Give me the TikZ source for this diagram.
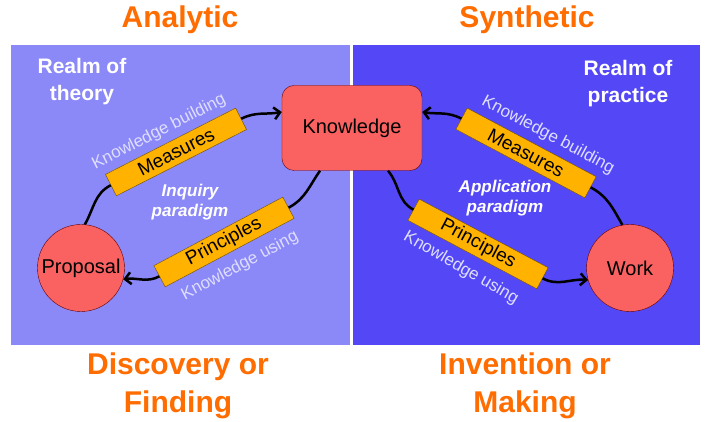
\documentclass[tikz,border=0pt]{standalone}
\usepackage{fontspec}
\setmainfont{Liberation Sans}
\usetikzlibrary{arrows.meta}

\definecolor{theory}{RGB}{139,136,248}
\definecolor{practice}{RGB}{84,72,246}
\definecolor{salmon}{RGB}{250,98,98}
\definecolor{amber}{RGB}{255,178,0}
\definecolor{flame}{RGB}{255,108,0}
\definecolor{lilac}{RGB}{222,222,255}
\newcommand{\fs}[2]{\fontsize{#1}{#2}\selectfont}

\begin{document}
\begin{tikzpicture}[x=1pt,y=1pt,
    heading/.style={text=flame, font=\fs{30}{38}\bfseries, align=center, inner sep=0pt},
    realm/.style={text=white, font=\fs{21}{27}\bfseries, align=center, inner sep=0pt},
    item/.style={draw=black!60!red, fill=salmon, font=\fs{20}{24}, inner sep=0pt},
    bar/.style={draw=black!55!amber, fill=amber, font=\fs{19}{23}, minimum width=146pt, minimum height=24pt, inner sep=0pt},
    flow/.style={text=lilac, font=\fs{17}{20}, inner sep=0pt},
    paradigm/.style={text=white, font=\fs{17}{20}\bfseries\itshape, align=center, inner sep=0pt},
    link/.style={line width=2.5pt, black},
    headed/.style={-{Straight Barb[length=6pt,width=12pt]}}]
    \useasboundingbox[fill=white] (0,0) rectangle (706,422);

    % Panels
    \fill[theory] (11,77) rectangle (350,377);
    \fill[practice] (353,77) rectangle (700,377);

    % Headings
    \node[heading] (analytic) at (180,402) {Analytic};
    \node[heading] (synthetic) at (527,402) {Synthetic};
    \node[heading] (discovery) at (178,36) {Discovery or\\Finding};
    \node[heading] (invention) at (525,36) {Invention or\\Making};

    \node[realm] (theory) at (82,340) {Realm of\\theory};
    \node[realm] (practice) at (628,338) {Realm of\\practice};

    % Main nodes
    \node[item, rounded corners=12pt, minimum width=140pt, minimum height=85pt] (knowledge) at (352,294) {Knowledge};
    \node[item, circle, minimum size=87pt] (proposal) at (81,154) {Proposal};
    \node[item, circle, minimum size=87pt] (work) at (630,154) {Work};

    % Bars
    \node[bar, rotate=27] (measures-l) at (176,270) {Measures};
    \node[bar, rotate=28] (principles-l) at (224,180) {Principles};
    \node[bar, rotate=-28] (measures-r) at (526,269) {Measures};
    \node[bar, rotate=-28] (principles-r) at (478,178) {Principles};

    % Labels
    \node[flow, rotate=27] (building-l) at (159,290) {Knowledge building};
    \node[flow, rotate=28] (using-l) at (240,156) {Knowledge using};
    \node[flow, rotate=-28] (building-r) at (548,287) {Knowledge building};
    \node[flow, rotate=-30] (using-r) at (461,154) {Knowledge using};
    \node[paradigm] (inquiry) at (190,220) {Inquiry\\paradigm};
    \node[paradigm] (application) at (505,224) {Application\\paradigm};

    % Left loop
    \draw[link] (proposal.85) to[out=60,in=207] (measures-l.west);
    \draw[link,headed] (measures-l.east) to[out=27,in=190] ([yshift=16pt]knowledge.west);
    \draw[link] ([xshift=-32pt]knowledge.south) to[out=235,in=28] (principles-l.east);
    \draw[link,headed] (principles-l.west) to[out=208,in=8] (proposal.-15);

    % Right loop
    \draw[link] (work.100) to[out=120,in=-28] (measures-r.east);
    \draw[link,headed] (measures-r.west) to[out=152,in=-9] ([yshift=16pt]knowledge.east);
    \draw[link] ([xshift=36pt]knowledge.south) to[out=-50,in=152] (principles-r.west);
    \draw[link,headed] (principles-r.east) to[out=-28,in=175] (work.196);

\end{tikzpicture}
\end{document}
